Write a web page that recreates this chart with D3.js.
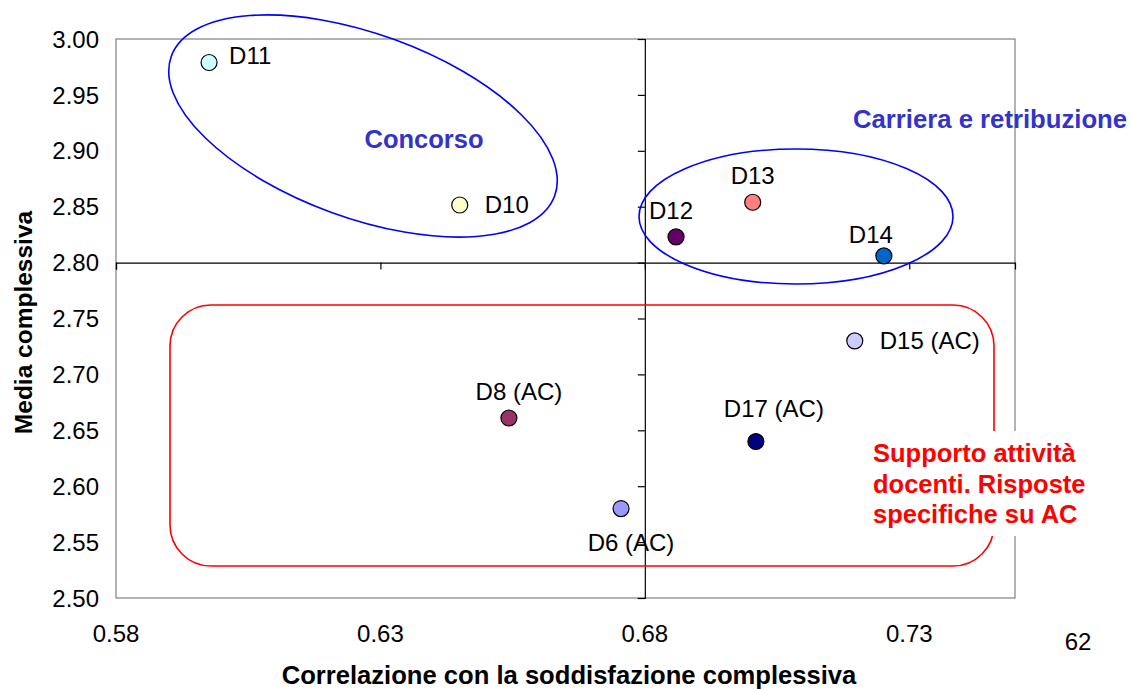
<!DOCTYPE html>
<html><head><meta charset="utf-8">
<script src="https://cdn.jsdelivr.net/npm/d3@7"></script>
<style>
html,body{margin:0;padding:0;background:#fff;}
svg{display:block;font-family:"Liberation Sans",Arial,sans-serif;}
</style></head>
<body>
<svg id="chart" width="1132" height="689"></svg>
<script>
// ---- data ----
const labels = ["D11","D10","D12","D13","D14","D15 (AC)","D8 (AC)","D17 (AC)","D6 (AC)"];
const xValues = [0.5976,0.6450,0.6859,0.7004,0.7252,0.7197,0.6543,0.7010,0.6755];
const yValues = [2.979,2.8515,2.823,2.854,2.806,2.730,2.661,2.640,2.580];
const pointColors = ["#CCFFFF","#FFFFCC","#660066","#FF8080","#0066CC","#CCCCFF","#993366","#000080","#9999FF"];
const labelSide = ["right","right","above","above","above","right","above","above","below"];
const xTicks = [0.58,0.63,0.68,0.73];
const yTicks = [2.50,2.55,2.60,2.65,2.70,2.75,2.80,2.85,2.90,2.95,3.00];
const xDomain = [0.58,0.75];
const yDomain = [2.50,3.00];
const crossX = 0.68, crossY = 2.80;
const xTitle = "Correlazione con la soddisfazione complessiva";
const yTitle = "Media complessiva";
const groupConcorso = "Concorso";
const groupCarriera = "Carriera e retribuzione";
const groupSupporto = ["Supporto attività","docenti. Risposte","specifiche su AC"];
const pageNumber = "62";

// ---- layout ----
const svg = d3.select("#chart");
const L = 116, R = 1015, T = 39, B = 598;
const x = d3.scaleLinear().domain(xDomain).range([L,R]);
const y = d3.scaleLinear().domain(yDomain).range([B,T]);
const F = 24;

// plot border
svg.append("rect").attr("x",L).attr("y",T).attr("width",R-L).attr("height",B-T)
  .attr("fill","none").attr("stroke","#808080").attr("stroke-width",1.2);

// crosshair axes with ticks
const gy = svg.append("g").attr("transform",`translate(${x(crossX)},0)`)
  .call(d3.axisLeft(y).tickValues(yTicks).tickSize(7).tickFormat(""));
const gx = svg.append("g").attr("transform",`translate(0,${y(crossY)})`)
  .call(d3.axisBottom(x).tickValues(xTicks).tickSize(7).tickFormat(""));
[gy,gx].forEach(g=>{g.selectAll("path").attr("stroke","#000").attr("stroke-width",1.2);
  g.selectAll("line").attr("stroke","#000").attr("stroke-width",1.2);});

// tick labels (outer positions)
svg.append("g").selectAll("text").data(yTicks).join("text")
  .attr("x",99).attr("y",d=>y(d)).attr("dy","0.36em").attr("text-anchor","end")
  .attr("font-size",F).attr("fill","#000").text(d=>d.toFixed(2));
svg.append("g").selectAll("text").data(xTicks).join("text")
  .attr("x",d=>x(d)).attr("y",642).attr("text-anchor","middle")
  .attr("font-size",F).attr("fill","#000").text(d=>d.toFixed(2));

// axis titles
svg.append("text").attr("x",569).attr("y",684).attr("text-anchor","middle")
  .attr("font-size",25.6).attr("font-weight","bold").text(xTitle);
svg.append("text").attr("transform",`translate(32,${(T+B)/2+4}) rotate(-90)`)
  .attr("text-anchor","middle").attr("font-size",24.5).attr("font-weight","bold").text(yTitle);

// group shapes
svg.append("ellipse").attr("cx",363).attr("cy",126).attr("rx",204).attr("ry",92)
  .attr("transform","rotate(20,363,126)")
  .attr("fill","none").attr("stroke","#0000FF").attr("stroke-width",1.6);
svg.append("ellipse").attr("cx",796).attr("cy",216.5).attr("rx",157).attr("ry",67.5)
  .attr("fill","none").attr("stroke","#0000FF").attr("stroke-width",1.6);
svg.append("rect").attr("x",170).attr("y",305).attr("width",824).attr("height",261)
  .attr("rx",41).attr("ry",41)
  .attr("fill","none").attr("stroke","#FF0000").attr("stroke-width",1.6);

// group labels
svg.append("text").attr("x",424).attr("y",148).attr("text-anchor","middle")
  .attr("font-size",25.5).attr("font-weight","bold").attr("fill","#3333CC").text(groupConcorso);
svg.append("text").attr("x",853).attr("y",128)
  .attr("font-size",25.7).attr("font-weight","bold").attr("fill","#3333CC").text(groupCarriera);
svg.append("rect").attr("x",866).attr("y",431).attr("width",226).attr("height",105).attr("fill","#fff");
svg.append("g").selectAll("text").data(groupSupporto).join("text")
  .attr("x",873).attr("y",(d,i)=>462+i*30.5)
  .attr("font-size",25.5).attr("font-weight","bold").attr("fill","#FF0000").text(d=>d);

// points
const pts = labels.map((l,i)=>({l,x:xValues[i],y:yValues[i],c:pointColors[i],s:labelSide[i]}));
svg.append("g").selectAll("circle").data(pts).join("circle")
  .attr("cx",d=>x(d.x)).attr("cy",d=>y(d.y)).attr("r",8)
  .attr("fill",d=>d.c).attr("stroke","#000").attr("stroke-width",1.2);

// point labels
const adj = {"D11":[0,-6],"D10":[5,0],"D15 (AC)":[5,0],"D12":[-5,0],"D14":[-13,5],"D17 (AC)":[18,-6],"D8 (AC)":[10,0],"D6 (AC)":[10,0]};
svg.append("g").selectAll("text").data(pts).join("text")
  .attr("x",d=>{const a=adj[d.l]||[0,0]; return x(d.x)+(d.s==="right"?20:0)+a[0];})
  .attr("y",d=>{const a=adj[d.l]||[0,0];
     const base = d.s==="right"? y(d.y)+8 : d.s==="above"? y(d.y)-18 : y(d.y)+42; return base+a[1];})
  .attr("text-anchor",d=>d.s==="right"?"start":"middle")
  .attr("font-size",F).attr("fill","#000").text(d=>d.l);

// page number
svg.append("text").attr("x",1078).attr("y",650).attr("text-anchor","middle")
  .attr("font-size",F).attr("fill","#000").text(pageNumber);
</script>
</body></html>
